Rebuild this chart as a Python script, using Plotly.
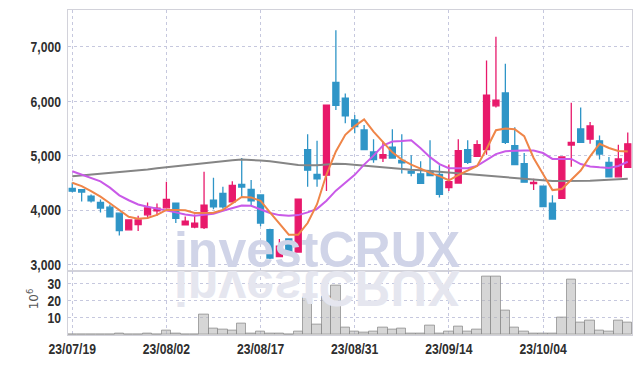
import plotly.graph_objects as go
from plotly.subplots import make_subplots

dates = [
    "23/07/19", "23/07/20", "23/07/21", "23/07/24", "23/07/25", "23/07/26", "23/07/27", "23/07/28", "23/07/31",
    "23/08/01", "23/08/02", "23/08/03", "23/08/04", "23/08/07", "23/08/08", "23/08/09", "23/08/10", "23/08/11",
    "23/08/14", "23/08/16", "23/08/17", "23/08/18", "23/08/21", "23/08/22", "23/08/23", "23/08/24", "23/08/25",
    "23/08/28", "23/08/29", "23/08/30", "23/08/31", "23/09/01", "23/09/04", "23/09/05", "23/09/06", "23/09/07",
    "23/09/08", "23/09/11", "23/09/12", "23/09/13", "23/09/14", "23/09/15", "23/09/18", "23/09/19", "23/09/20",
    "23/09/21", "23/09/22", "23/09/25", "23/09/26", "23/09/27", "23/10/04", "23/10/05", "23/10/06", "23/10/10",
    "23/10/11", "23/10/12", "23/10/13", "23/10/16", "23/10/17", "23/10/18",
]
opens = [4400, 4380, 4260, 4145, 4055, 3945, 3640, 3735, 3915, 3990,
         4043, 4128, 3733, 3690, 3680, 4183, 4310, 4152, 4474, 4383,
         4280, 3642, 3145, 3473, 3230, 5112, 4656, 4644, 6350, 6058,
         5658, 5476, 5070, 4960, 5161, 4917, 4717, 4669, 4717, 4656,
         4414, 4498, 5112, 4990, 5112, 5918, 6155, 5185, 4857, 4490,
         4443, 4128, 4219, 5197, 5494, 5306, 5276, 4880, 4614, 4789]
highs = [4510, 4390, 4290, 4195, 4105, 3950, 3830, 3898, 4140, 4123,
         4523, 4140, 3886, 3922, 4705, 4596, 4432, 4534, 4960, 4553,
         4290, 3660, 3473, 3480, 4210, 5397, 5276, 5935, 7310, 6144,
         5749, 5567, 5306, 5263, 5488, 5397, 5008, 4899, 5288, 4826,
         4838, 5306, 5288, 5288, 6751, 7187, 6690, 5525, 5051, 4578,
         4450, 4274, 4985, 5973, 5889, 5621, 5372, 4979, 5203, 5427]
lows = [4330, 4160, 4140, 3960, 3875, 3533, 3630, 3618, 3837, 3897,
        4040, 3764, 3725, 3667, 3655, 4019, 4025, 4140, 4232, 4092,
        3704, 3100, 3140, 3225, 3225, 4432, 4432, 4352, 5840, 5598,
        5416, 5110, 4870, 4888, 4955, 4675, 4626, 4480, 4630, 4232,
        4352, 4495, 4851, 4985, 5021, 5889, 5215, 4835, 4510, 4370,
        4060, 3830, 4210, 4797, 5240, 5221, 4930, 4605, 4610, 4783]
closes = [4350, 4335, 4170, 4040, 3880, 3625, 3822, 3820, 4043, 4037,
          4200, 3850, 3800, 3764, 4092, 4061, 4061, 4456, 4425, 4170,
          3764, 3121, 3340, 3230, 4201, 4735, 4578, 5931, 5926, 5736,
          5536, 5112, 4930, 5021, 4960, 4870, 4680, 4492, 4638, 4292,
          4523, 5094, 4880, 5203, 6113, 6022, 5245, 4838, 4516, 4510,
          4068, 3837, 4979, 5245, 5245, 5549, 5033, 4614, 4942, 5221]
ma_short = [4505, 4443, 4352, 4250, 4128, 4006, 3880, 3845, 3858, 3915,
            4006, 4006, 4000, 3950, 3946, 3955, 4006, 4128, 4243, 4235,
            4171, 3960, 3746, 3551, 3551, 3764, 4110, 4656, 5081, 5385,
            5545, 5670, 5445, 5252, 5063, 4930, 4838, 4765, 4687, 4626,
            4550, 4644, 4735, 4815, 5125, 5470, 5503, 5488, 5360, 4960,
            4665, 4370, 4390, 4555, 4730, 4990, 5221, 5143, 5088, 5081]
ma_mid = [4717, 4656, 4596, 4529, 4414, 4274, 4183, 4105, 4062, 4032,
          4001, 3960, 3922, 3897, 3915, 3935, 3989, 4037, 4085, 4080,
          4019, 3950, 3910, 3897, 3910, 3960, 4025, 4175, 4360, 4505,
          4650, 4838, 5003, 5190, 5263, 5272, 5285, 5137, 4975, 4848,
          4772, 4770, 4772, 4815, 4930, 5030, 5085, 5097, 5097, 5097,
          5051, 4942, 4942, 4942, 4848, 4803, 4788, 4778, 4814, 4890]
ma_long = [4626, 4640, 4655, 4670, 4685, 4700, 4715, 4730, 4750, 4770,
           4790, 4805, 4820, 4840, 4860, 4880, 4900, 4920, 4930, 4925,
           4915, 4900, 4880, 4850, 4830, 4826, 4826, 4840, 4855, 4850,
           4835, 4820, 4800, 4785, 4765, 4755, 4745, 4735, 4720, 4705,
           4695, 4680, 4665, 4650, 4640, 4625, 4610, 4590, 4575, 4560,
           4545, 4535, 4535, 4535, 4535, 4540, 4550, 4560, 4570, 4578]
volume = [0.05, 0.05, 0.1, 0.1, 0.1, 0.6, 0.1, 0.1, 0.6, 0.2,
          2.3, 0.8, 0.1, 0.1, 12.0, 3.5, 3.0, 2.3, 6.9, 1.1,
          2.2, 1.1, 0.6, 0.2, 2.2, 21.8, 6.0, 22.4, 28.7, 4.2,
          2.1, 1.5, 2.1, 4.4, 3.3, 3.9, 1.0, 1.0, 5.6, 0.6,
          1.7, 5.0, 1.7, 3.3, 34.0, 34.0, 14.3, 4.4, 2.1, 1.0,
          1.0, 1.0, 10.2, 32.2, 7.5, 8.5, 2.7, 1.7, 8.5, 7.5]
tick_dates = ["23/07/19", "23/08/02", "23/08/17", "23/08/31", "23/09/14", "23/10/04"]
price_ticks = [3000, 4000, 5000, 6000, 7000]
volume_ticks = [10, 20, 30]
volume_unit = "10<sup>6</sup>"
watermark = "investCRUX"
watermark_x = "23/08/25"

UP = "#e8196b"
DOWN = "#2f95c7"
GRID = "#c6c8de"
FRAME = "#d2d2da"
TICKFONT = dict(family="Liberation Sans, Arial, sans-serif", size=15, color="#2e2e2e", weight="bold")

fig = make_subplots(rows=2, cols=1, shared_xaxes=True, vertical_spacing=0,
                    row_heights=[263 / 328, 65 / 328])

# watermark (behind everything)
fig.add_trace(go.Scatter(x=[watermark_x], y=[3187], mode="text", text=[watermark],
                         textposition="middle center",
                         textfont=dict(family="Liberation Sans, Arial, sans-serif", size=50,
                                       color="#d0d4e8", weight="bold"),
                         hoverinfo="skip", showlegend=False), row=1, col=1)
fig.add_trace(go.Scatter(x=[watermark_x], y=[30], mode="text", text=[watermark],
                         textposition="top center",
                         textfont=dict(family="Liberation Sans, Arial, sans-serif", size=50,
                                       color="#e5e6ef", weight="bold"),
                         hoverinfo="skip", showlegend=False), row=2, col=1)

fig.add_trace(go.Candlestick(x=dates, open=opens, high=highs, low=lows, close=closes,
                             increasing=dict(line=dict(color=UP, width=1.3), fillcolor=UP),
                             decreasing=dict(line=dict(color=DOWN, width=1.3), fillcolor=DOWN),
                             whiskerwidth=0, showlegend=False), row=1, col=1)
fig.add_trace(go.Scatter(x=dates, y=ma_long, mode="lines", line=dict(color="#858585", width=2),
                         showlegend=False), row=1, col=1)
fig.add_trace(go.Scatter(x=dates, y=ma_mid, mode="lines", line=dict(color="#c95ae8", width=2),
                         showlegend=False), row=1, col=1)
fig.add_trace(go.Scatter(x=dates, y=ma_short, mode="lines", line=dict(color="#ef8548", width=2),
                         showlegend=False), row=1, col=1)

fig.add_trace(go.Bar(x=dates, y=volume,
                     marker=dict(color="rgba(180,180,180,0.55)",
                                 line=dict(color="rgba(140,140,140,0.75)", width=1)),
                     showlegend=False), row=2, col=1)

xcommon = dict(type="category", categoryorder="array", categoryarray=dates,
               range=[-0.45, 59.45], tickmode="array", tickvals=tick_dates, ticktext=tick_dates,
               showgrid=True, gridcolor=GRID, griddash="dot", gridwidth=1,
               showline=True, linecolor=FRAME, linewidth=1, mirror=True,
               ticks="", tickfont=TICKFONT, zeroline=False)
fig.update_xaxes(**xcommon)
fig.update_xaxes(showticklabels=False, rangeslider_visible=False, row=1, col=1)
fig.update_xaxes(showticklabels=True, row=2, col=1)

ycommon = dict(showgrid=True, gridcolor=GRID, griddash="dot", gridwidth=1,
               showline=True, linecolor=FRAME, linewidth=1, mirror=True,
               ticks="outside", ticklen=3, tickcolor="rgba(0,0,0,0)",
               tickfont=TICKFONT, zeroline=False)
fig.update_yaxes(**ycommon)
fig.update_yaxes(range=[2890, 7680], tickmode="array", tickvals=price_ticks,
                 tickformat=",d", row=1, col=1)
fig.update_yaxes(range=[0, 37.6], tickmode="array", tickvals=volume_ticks, row=2, col=1)

fig.add_annotation(text=volume_unit, textangle=-90, xref="paper", yref="paper",
                   x=-0.062, y=0.11, xanchor="center", yanchor="middle", showarrow=False,
                   font=dict(family="DejaVu Sans, sans-serif", size=12, color="#555555"))

fig.update_layout(width=642, height=366, margin=dict(l=68, r=10, t=9, b=29),
                  paper_bgcolor="white", plot_bgcolor="white",
                  bargap=0, boxgap=0.2, boxgroupgap=0.2,
                  showlegend=False, hovermode=False)

post = """
var gd = document.getElementById('{plot_id}');
var ts = gd.querySelectorAll('g.textpoint text');
var found = [];
ts.forEach(function(t){ if (t.textContent === 'investCRUX') { found.push(t); } });
if (found.length > 1) {
  var t = found[found.length - 1];
  var y = parseFloat(t.getAttribute('y'));
  t.setAttribute('transform', 'translate(0,' + (2 * y) + ') scale(1,-1)');
}
gd.querySelectorAll('.xaxislayer-above text, .yaxislayer-above text').forEach(function(t){
  var w = t.getComputedTextLength();
  if (w > 0) {
    t.setAttribute('textLength', (w * 0.81).toFixed(1));
    t.setAttribute('lengthAdjust', 'spacingAndGlyphs');
  }
});
"""
fig.write_html("out.html", post_script=post)
